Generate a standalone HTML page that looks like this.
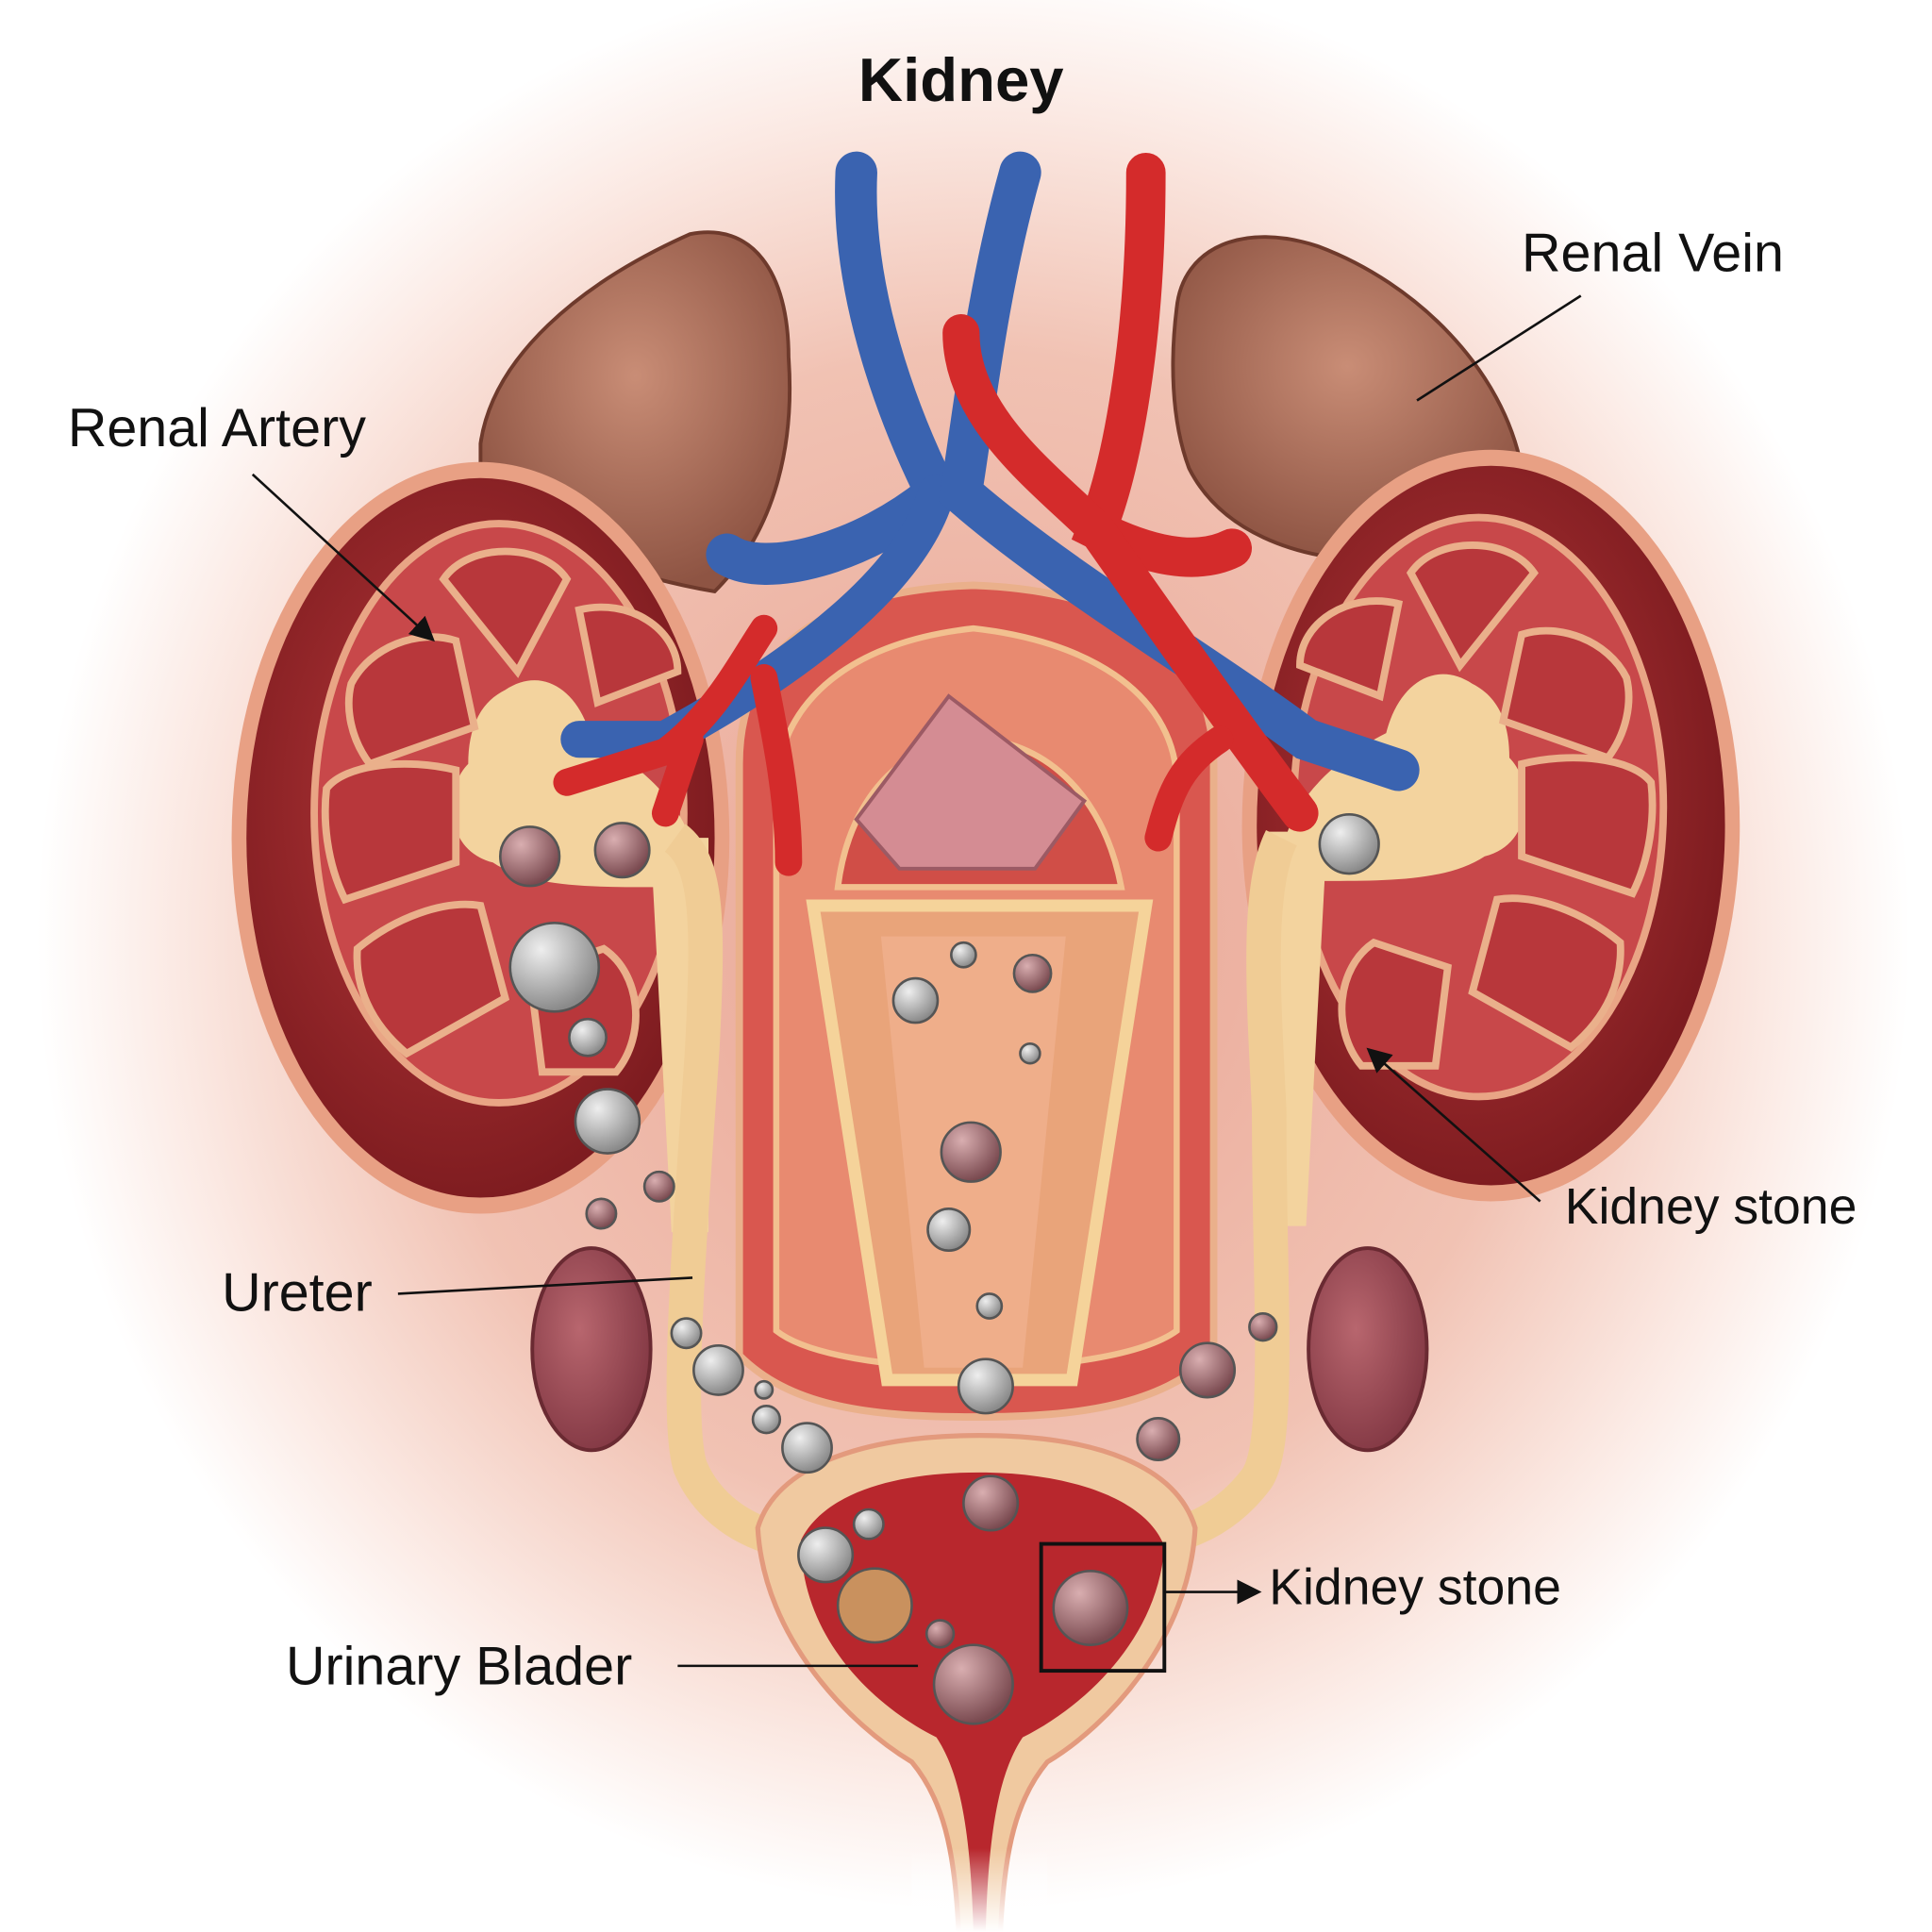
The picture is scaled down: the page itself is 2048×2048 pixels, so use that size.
<!DOCTYPE html>
<html><head><meta charset="utf-8"><style>
html,body{margin:0;padding:0;background:#fff}
svg{display:block}
text{font-family:"Liberation Sans",sans-serif;fill:#111}
</style></head><body>
<svg width="2048" height="2048" viewBox="0 0 1568 1568" xmlns="http://www.w3.org/2000/svg">
<defs>
<radialGradient id="bg" cx="0.5" cy="0.5" r="0.5">
<stop offset="0" stop-color="#e9a493"/><stop offset="0.6" stop-color="#f1c2b3"/><stop offset="0.85" stop-color="#fbe9e3"/><stop offset="1" stop-color="#fff"/></radialGradient>
<radialGradient id="kid" cx="0.45" cy="0.45" r="0.6"><stop offset="0" stop-color="#b8383a"/><stop offset="1" stop-color="#7a1a1e"/></radialGradient>
<radialGradient id="adr" cx="0.5" cy="0.4" r="0.6"><stop offset="0" stop-color="#c98d76"/><stop offset="1" stop-color="#8e5443"/></radialGradient>
<radialGradient id="stone" cx="0.35" cy="0.3" r="0.7"><stop offset="0" stop-color="#eeeeee"/><stop offset="1" stop-color="#8a8a8a"/></radialGradient>
<radialGradient id="bst" cx="0.35" cy="0.3" r="0.7"><stop offset="0" stop-color="#d9aeb0"/><stop offset="1" stop-color="#7a4a50"/></radialGradient>
<radialGradient id="ov" cx="0.4" cy="0.4" r="0.7"><stop offset="0" stop-color="#b8666e"/><stop offset="1" stop-color="#7e3440"/></radialGradient>
<linearGradient id="vfade" x1="0" y1="0" x2="0" y2="1"><stop offset="0" stop-color="#fff" stop-opacity="1"/><stop offset="1" stop-color="#fff" stop-opacity="0"/></linearGradient>
<marker id="ar" markerWidth="10" markerHeight="10" refX="8" refY="5" orient="auto"><path d="M0,0 L10,5 L0,10z" fill="#111"/></marker>
<g id="kin">
<ellipse cx="405" cy="660" rx="150" ry="235" fill="#c8484a" stroke="#e9a585" stroke-width="6"/>
<path d="M410,560 C440,540 470,560 480,600 C520,620 550,650 560,680 L575,680 L575,1000 L545,1000 L530,720 C480,720 430,720 400,700 C360,690 360,640 380,620 C380,590 390,570 410,560z" fill="#f3d39e"/>
<g fill="#b8373b" stroke="#eab08b" stroke-width="6">
<path d="M360,470 C380,440 440,440 460,470 L420,545z"/>
<path d="M470,495 C510,485 550,510 550,545 L485,570z"/>
<path d="M285,555 C300,525 340,510 370,520 L385,590 L300,620 C285,600 280,575 285,555z"/>
<path d="M265,640 C280,620 330,615 370,625 L370,700 L280,730 C265,700 262,665 265,640z"/>
<path d="M290,770 C320,745 360,730 390,735 L410,810 L330,855 C300,830 288,800 290,770z"/>
<path d="M430,790 L490,770 C520,790 525,840 500,870 L440,870z"/>
</g>
</g>
</defs>
<rect width="1568" height="1568" fill="#fff"/>
<ellipse cx="790" cy="760" rx="760" ry="790" fill="url(#bg)"/>
<path d="M390,360 C400,290 470,230 560,190 C610,180 640,220 640,290 C645,360 630,430 580,480 C520,470 420,440 390,400z" fill="url(#adr)" stroke="#6e3a2c" stroke-width="3"/>
<path d="M955,250 C960,200 1010,180 1070,200 C1150,230 1220,300 1235,380 C1230,430 1180,450 1120,455 C1050,455 990,430 965,380 C950,340 950,290 955,250z" fill="url(#adr)" stroke="#6e3a2c" stroke-width="3"/>
<ellipse cx="390" cy="680" rx="202" ry="305" fill="#e8a084"/>
<ellipse cx="390" cy="680" rx="190" ry="292" fill="url(#kid)"/>
<ellipse cx="1210" cy="670" rx="202" ry="305" fill="#e8a084"/>
<ellipse cx="1210" cy="670" rx="190" ry="292" fill="url(#kid)"/>
<use href="#kin"/>
<use href="#kin" transform="translate(1605,-5) scale(-1,1)"/>
<path d="M600,620 C600,540 650,480 790,475 C930,480 985,540 985,620 L985,1100 C940,1140 880,1150 790,1150 C700,1150 640,1140 600,1100z" fill="#d9574f" stroke="#eab08b" stroke-width="6"/>
<path d="M630,630 C640,560 700,520 790,510 C880,520 950,560 955,630 L955,1080 C900,1120 680,1120 630,1080z" fill="#e88a70" stroke="#f2c08f" stroke-width="5"/>
<path d="M680,720 C700,560 880,560 910,720z" fill="#d04e47" stroke="#f2c08f" stroke-width="5"/>
<path d="M695,665 L770,565 L880,650 L840,705 L730,705z" fill="#d48c93" stroke="#9c5a64" stroke-width="3"/>
<path d="M660,735 L930,735 L870,1120 L720,1120z" fill="#e9a47a" stroke="#f5d39a" stroke-width="10"/>
<path d="M715,760 L865,760 L830,1110 L750,1110z" fill="#efae8a"/>
<path d="M548,680 C575,700 575,750 570,850 C560,1000 548,1150 560,1190 C580,1240 640,1260 680,1250" fill="none" stroke="#f0cc95" stroke-width="28"/>
<path d="M1040,680 C1020,720 1025,800 1030,900 C1030,1050 1040,1170 1020,1200 C990,1240 950,1250 920,1250" fill="none" stroke="#f0cc95" stroke-width="28"/>
<ellipse cx="480" cy="1095" rx="48" ry="82" fill="url(#ov)" stroke="#6a2a32" stroke-width="3"/>
<ellipse cx="1110" cy="1095" rx="48" ry="82" fill="url(#ov)" stroke="#6a2a32" stroke-width="3"/>
<path d="M615,1240 C630,1190 700,1165 795,1165 C890,1165 955,1190 970,1240 C965,1330 900,1400 850,1430 C825,1460 815,1500 812,1568 L778,1568 C775,1500 765,1460 740,1430 C690,1400 620,1330 615,1240z" fill="#f0c9a0" stroke="#e39a7d" stroke-width="4"/>
<path d="M650,1250 C670,1210 730,1195 795,1195 C865,1195 930,1215 945,1255 C940,1330 880,1385 830,1410 C810,1440 802,1490 800,1568 L790,1568 C788,1490 780,1440 760,1410 C710,1385 650,1330 650,1250z" fill="#b8272d"/>
<rect x="740" y="1500" width="110" height="68" fill="url(#vfade)" transform="rotate(180 795 1534)"/>
<g fill="none" stroke-linecap="round">
<path d="M695,140 C690,250 740,360 760,400 C700,450 620,470 590,450" stroke="#3a63b0" stroke-width="34"/>
<path d="M760,400 C740,470 650,540 540,600 L470,600" stroke="#3a63b0" stroke-width="30"/>
<path d="M828,140 C800,240 790,340 780,400 C860,470 980,540 1060,600 L1135,625" stroke="#3a63b0" stroke-width="34"/>
<path d="M930,140 C930,280 910,380 890,430 C930,450 970,460 1000,445" stroke="#d42b2b" stroke-width="32"/>
<path d="M780,270 C780,340 850,390 890,430 C960,530 1010,600 1055,660" stroke="#d42b2b" stroke-width="30"/>
<path d="M620,510 C600,540 580,580 540,610 L460,635 M560,600 L540,660 M620,550 C630,600 640,650 640,700 M990,600 C960,620 950,640 940,680" stroke="#d42b2b" stroke-width="22"/>
</g>
<g stroke="#555" stroke-width="2">
<circle cx="430" cy="695" r="24" fill="url(#bst)"/><circle cx="505" cy="690" r="22" fill="url(#bst)"/>
<circle cx="450" cy="785" r="36" fill="url(#stone)"/><circle cx="477" cy="842" r="15" fill="url(#stone)"/><circle cx="493" cy="910" r="26" fill="url(#stone)"/>
<circle cx="535" cy="963" r="12" fill="url(#bst)"/><circle cx="488" cy="985" r="12" fill="url(#bst)"/>
<circle cx="1095" cy="685" r="24" fill="url(#stone)"/>
<circle cx="743" cy="812" r="18" fill="url(#stone)"/><circle cx="838" cy="790" r="15" fill="url(#bst)"/><circle cx="782" cy="775" r="10" fill="url(#stone)"/>
<circle cx="788" cy="935" r="24" fill="url(#bst)"/><circle cx="770" cy="998" r="17" fill="url(#stone)"/><circle cx="836" cy="855" r="8" fill="url(#stone)"/><circle cx="803" cy="1060" r="10" fill="url(#stone)"/>
<circle cx="800" cy="1125" r="22" fill="url(#stone)"/>
<circle cx="557" cy="1082" r="12" fill="url(#stone)"/><circle cx="583" cy="1112" r="20" fill="url(#stone)"/><circle cx="620" cy="1128" r="7" fill="url(#stone)"/><circle cx="622" cy="1152" r="11" fill="url(#stone)"/><circle cx="655" cy="1175" r="20" fill="url(#stone)"/>
<circle cx="980" cy="1112" r="22" fill="url(#bst)"/><circle cx="940" cy="1168" r="17" fill="url(#bst)"/><circle cx="1025" cy="1077" r="11" fill="url(#bst)"/>
<circle cx="804" cy="1220" r="22" fill="url(#bst)"/><circle cx="705" cy="1237" r="12" fill="url(#stone)"/><circle cx="670" cy="1262" r="22" fill="url(#stone)"/>
<circle cx="710" cy="1303" r="30" fill="#c9915e"/><circle cx="763" cy="1326" r="11" fill="url(#bst)"/><circle cx="790" cy="1367" r="32" fill="url(#bst)"/><circle cx="885" cy="1305" r="30" fill="url(#bst)"/>
</g>
<rect x="845" y="1253" width="100" height="103" fill="none" stroke="#111" stroke-width="3"/>
<text x="780" y="82" font-size="50" font-weight="bold" text-anchor="middle">Kidney</text>
<text x="1235" y="220" font-size="44">Renal Vein</text>
<text x="55" y="362" font-size="44">Renal Artery</text>
<text x="1270" y="993" font-size="41">Kidney stone</text>
<text x="180" y="1064" font-size="44">Ureter</text>
<text x="1030" y="1302" font-size="41">Kidney stone</text>
<text x="232" y="1367" font-size="44">Urinary Blader</text>
<g stroke="#111" stroke-width="2" fill="none">
<line x1="1283" y1="240" x2="1150" y2="325"/>
<line x1="205" y1="385" x2="350" y2="518" marker-end="url(#ar)"/>
<line x1="1250" y1="975" x2="1112" y2="853" marker-end="url(#ar)"/>
<line x1="323" y1="1050" x2="562" y2="1037"/>
<line x1="945" y1="1292" x2="1020" y2="1292" marker-end="url(#ar)"/>
<line x1="550" y1="1352" x2="745" y2="1352"/>
</g>
</svg>
</body></html>
